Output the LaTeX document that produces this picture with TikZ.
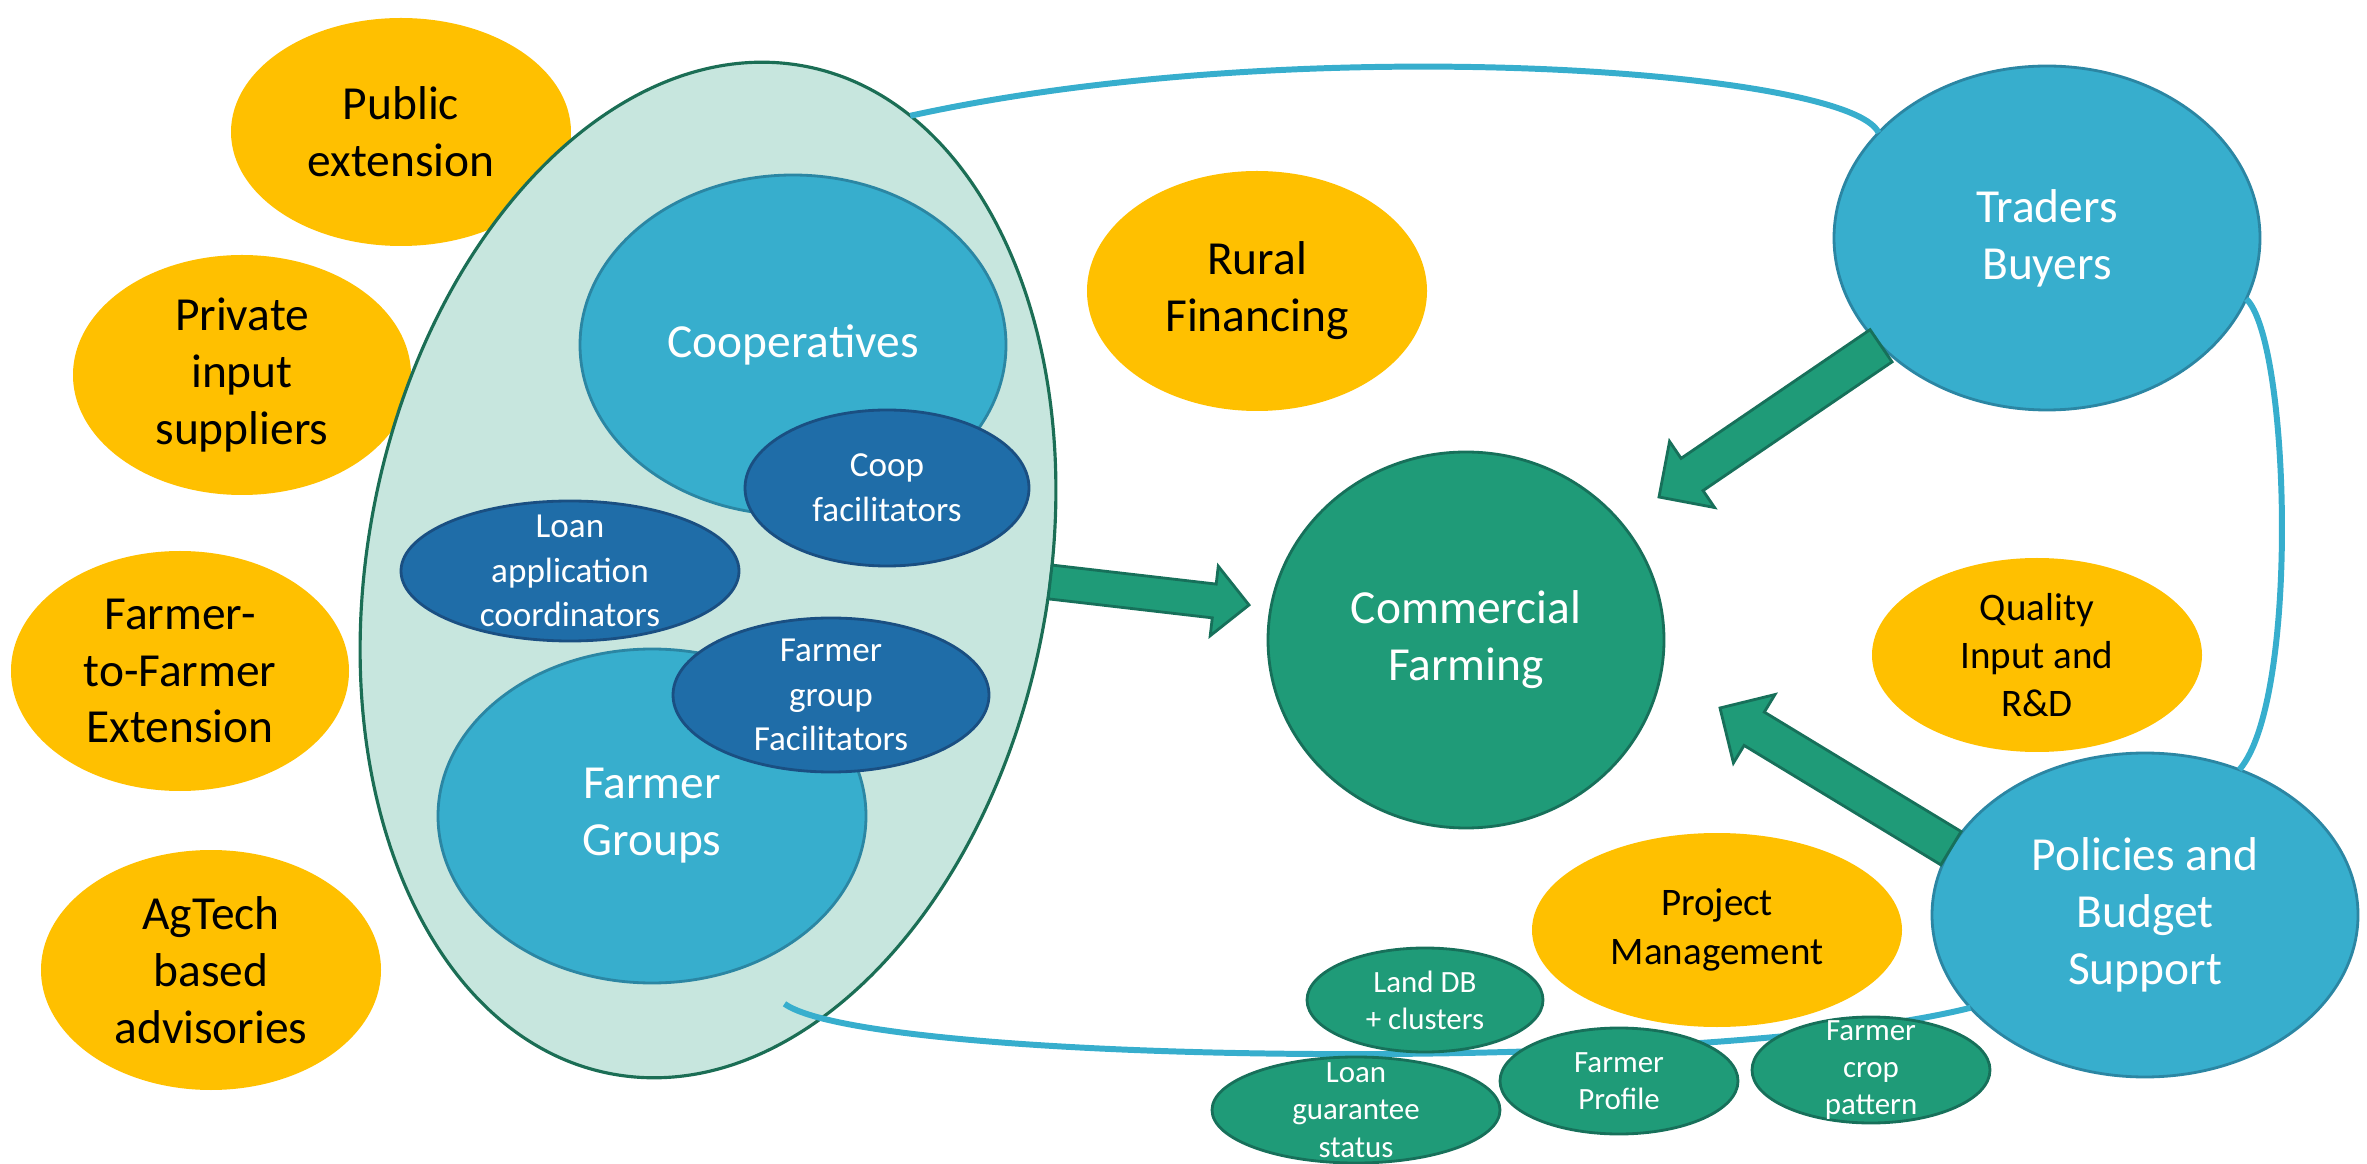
\documentclass[tikz,border=0pt]{standalone}
\usepackage{fontspec}
\setmainfont{Carlito}
\usepackage{tikz}
\usetikzlibrary{shapes.geometric,calc}
\definecolor{gold}{HTML}{FFC000}
\definecolor{sky}{HTML}{37AECD}
\definecolor{skyline}{HTML}{2B86A3}
\definecolor{navy}{HTML}{1F6DA8}
\definecolor{navyline}{HTML}{1A4F82}
\definecolor{leaf}{HTML}{1F9B78}
\definecolor{leafline}{HTML}{17705A}
\definecolor{mint}{HTML}{C7E6DE}
\definecolor{mintline}{HTML}{1B6E55}
\tikzset{blob/.style 2 args = {%
  shape = ellipse,
  inner sep = 0pt,
  outer sep = 0pt,
  minimum width = #1,
  minimum height = #2
 },
 gold oval/.style = {fill = gold, draw = none},
 sky oval/.style = {fill = sky, draw = skyline, line width = 0.8pt},
 navy oval/.style = {fill = navy, draw = navyline, line width = 0.8pt},
 leaf oval/.style = {fill = leaf, draw = leafline, line width = 0.8pt},
 big text/.style = {font = \fontsize{13.5}{16.2}\selectfont, align = center},
 mid text/.style = {font = \fontsize{11.1}{13.7}\selectfont, align = center},
 fac text/.style = {font = \fontsize{10}{12.7}\selectfont, align = center, text = white},
 tiny text/.style = {font = \fontsize{8.8}{10.6}\selectfont, align = center, text = white},
 link/.style = {draw = sky, line width = 1.7pt},
 fat/.style = {fill = leaf, draw = leafline, line width = 0.8pt, line join = miter}
}
\newcommand{\fatarrow}[5]{%
  \path ($(#2)!#5!(#1)$) coordinate (neck);
  \draw[fat] ($(#1)!#3!90:(#2)$) -- ($(neck)!#3!90:(#2)$) -- ($(neck)!#4!90:(#2)$)
    -- (#2) -- ($(neck)!#4!-90:(#2)$) -- ($(neck)!#3!-90:(#2)$) -- ($(#1)!#3!-90:(#2)$) -- cycle;
}

\begin{document}
\begin{tikzpicture}
      \useasboundingbox (0,0) rectangle (23.67,-11.64);

      \node[blob={3.40cm}{2.28cm}, gold oval, label={[big text]center:Public\\extension}] (pub) at (4.01,-1.32) {};
      \node[blob={3.38cm}{2.40cm}, gold oval, label={[big text]center:Private\\input\\suppliers}] (priv) at (2.42,-3.75) {};
      \node[blob={3.38cm}{2.40cm}, gold oval, label={[big text]center:Farmer-\\to-Farmer\\Extension}] (ftof) at (1.80,-6.71) {};
      \node[blob={3.40cm}{2.40cm}, gold oval, label={[big text]center:AgTech\\based\\advisories}] (agtech) at (2.11,-9.70) {};
      \node[blob={3.40cm}{2.40cm}, gold oval, label={[big text]center:Rural\\Financing}] (rural) at (12.57,-2.91) {};

      \node[blob={6.80cm}{10.26cm}, fill = mint, draw = mintline, line width = 0.9pt, rotate = -11] (cluster) at (7.08,-5.70) {};
      \node[blob={4.26cm}{3.40cm}, sky oval, label={[big text, text = white]center:Cooperatives}] (coop) at (7.93,-3.45) {};
      \node[blob={2.84cm}{1.56cm}, navy oval, label={[fac text]center:Coop\\facilitators}] (coopfac) at (8.87,-4.88) {};
      \node[blob={3.38cm}{1.40cm}, navy oval, label={[fac text]center:Loan\\application\\coordinators}] (loanapp) at (5.70,-5.71) {};
      \node[blob={4.28cm}{3.34cm}, sky oval, label={[big text, text = white]center:Farmer\\Groups}] (groups) at (6.52,-8.16) {};
      \node[blob={3.16cm}{1.54cm}, navy oval, label={[fac text]center:Farmer\\group\\Facilitators}] (groupfac) at (8.31,-6.95) {};

      \node[blob={3.96cm}{3.76cm}, leaf oval, label={[big text, text = white]center:Commercial\\Farming}] (commercial) at (14.66,-6.40) {};
      \node[blob={4.26cm}{3.44cm}, sky oval, label={[big text, text = white]center:Traders\\Buyers}] (traders) at (20.47,-2.38) {};
      \node[blob={4.26cm}{3.24cm}, sky oval, label={[big text, text = white]center:Policies and\\Budget\\Support}] (policies) at (21.45,-9.15) {};
      \node[blob={3.30cm}{1.94cm}, gold oval, label={[mid text]center:Quality\\Input and\\R\&D}] (quality) at (20.37,-6.55) {};
      \node[blob={3.70cm}{1.94cm}, gold oval, label={[mid text]center:Project\\Management}] (project) at (17.17,-9.30) {};

      \coordinate (hook) at ($(cluster.291)!0.35cm!(cluster.center)$);
      \draw[link] (cluster.77) .. controls (13.00,-0.30) and (18.50,-0.70) .. (traders.148);
      \draw[link] (traders.343) .. controls (22.90,-3.40) and (23.00,-7.00) .. (policies.57);
      \draw[link] (hook) .. controls (8.70,-10.65) and (17.00,-10.75) .. (policies.208);

      \node[blob={2.36cm}{1.04cm}, leaf oval, label={[tiny text]center:Land DB\\+ clusters}] (landdb) at (14.25,-10.00) {};
      \node[blob={2.88cm}{1.06cm}, leaf oval, label={[tiny text]center:Loan\\guarantee\\status}] (loanguar) at (13.56,-11.10) {};
      \node[blob={2.38cm}{1.06cm}, leaf oval, label={[tiny text]center:Farmer\\Profile}] (profile) at (16.19,-10.81) {};
      \node[blob={2.38cm}{1.06cm}, leaf oval, label={[tiny text]center:Farmer\\crop\\pattern}] (croppat) at (18.71,-10.70) {};

      \coordinate (tipA) at (12.49,-6.05);
      \coordinate (tipB) at (16.59,-4.97);
      \coordinate (tipC) at (17.20,-7.08);
      \fatarrow{cluster.9}{tipA}{0.17cm}{0.35cm}{0.35cm}
      \fatarrow{traders.213}{tipB}{0.195cm}{0.40cm}{0.40cm}
      \fatarrow{policies.161}{tipC}{0.195cm}{0.40cm}{0.40cm}
\end{tikzpicture}
\end{document}
